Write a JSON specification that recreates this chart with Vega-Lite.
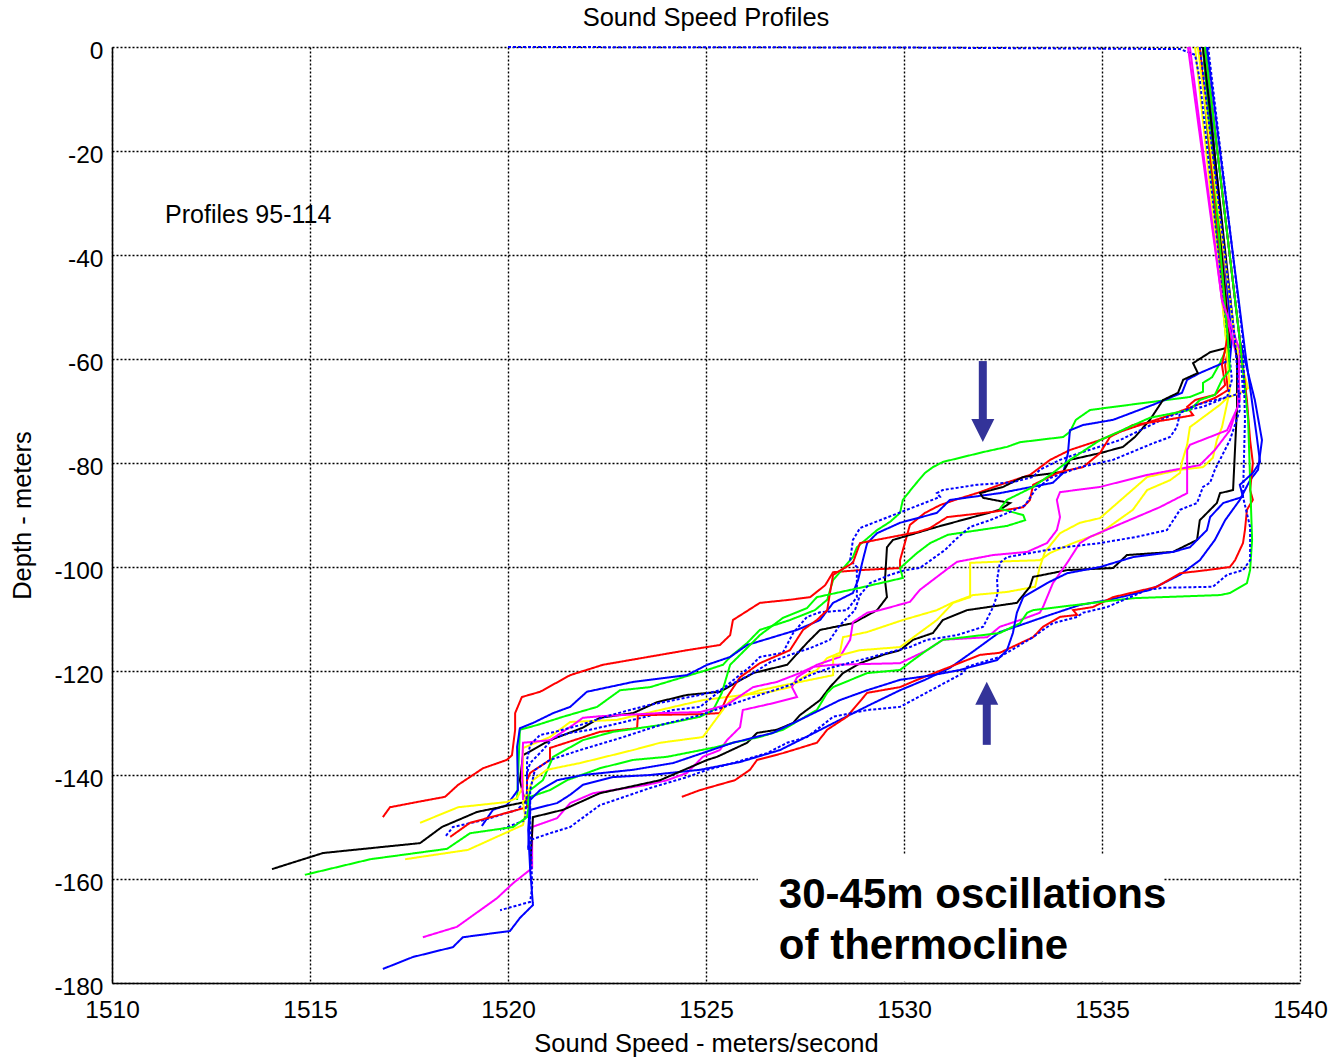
{
  "$schema": "https://vega.github.io/schema/vega-lite/v6.json",
  "width": 1188,
  "height": 936,
  "autosize": {"type": "none"},
  "padding": {"left": 112, "top": 47, "right": 36, "bottom": 75},
  "background": "white",
  "config": {
    "view": {"stroke": null},
    "font": "Liberation Sans",
    "axis": {
      "labelFont": "Liberation Sans",
      "titleFont": "Liberation Sans",
      "labelColor": "black",
      "titleColor": "black",
      "labelFontSize": 24.5,
      "titleFontSize": 25.5,
      "titleFontWeight": "normal",
      "labelFlush": false,
      "labelOverlap": false,
      "grid": true,
      "gridColor": "black",
      "gridDash": [2, 2],
      "gridWidth": 1.4,
      "gridOpacity": 1,
      "domainColor": "black",
      "domainWidth": 1.5,
      "ticks": false
    }
  },
  "title": {
    "text": "Sound Speed Profiles",
    "font": "Liberation Sans",
    "fontSize": 25.5,
    "fontWeight": "normal",
    "color": "black",
    "anchor": "middle",
    "offset": 7
  },
  "encoding": {
    "x": {
      "field": "v",
      "type": "quantitative",
      "scale": {"domain": [1510, 1540], "nice": false, "zero": false},
      "axis": {
        "title": "Sound Speed - meters/second",
        "values": [1510, 1515, 1520, 1525, 1530, 1535, 1540],
        "format": "d",
        "labelPadding": 15,
        "titleX": 594,
        "titleY": 60,
        "titleAlign": "center",
        "titleBaseline": "middle"
      }
    },
    "y": {
      "field": "d",
      "type": "quantitative",
      "scale": {"domain": [-180, 0], "nice": false, "zero": false},
      "axis": {
        "title": "Depth - meters",
        "values": [0, -20, -40, -60, -80, -100, -120, -140, -160, -180],
        "labelExpr": "'' + datum.value",
        "labelPadding": 9,
        "labelOffset": 4,
        "titleX": -90,
        "titleY": 468,
        "titleAngle": 270,
        "titleAlign": "center",
        "titleBaseline": "middle"
      }
    }
  },
  "layer": [
    {
      "data": {"values": [
{"p":"95","v":1537.55,"d":0},{"p":"95","v":1538.23,"d":-56.3},{"p":"95","v":1538.11,"d":-61.2},{"p":"95","v":1538.18,"d":-66.0},{"p":"95","v":1537.85,"d":-67.5},{"p":"95","v":1536.72,"d":-70.8},{"p":"95","v":1535.45,"d":-74.0},{"p":"95","v":1534.95,"d":-75.6},{"p":"95","v":1534.19,"d":-77.5},{"p":"95","v":1533.69,"d":-79.4},{"p":"95","v":1533.18,"d":-82.3},{"p":"95","v":1532.42,"d":-84.2},{"p":"95","v":1531.92,"d":-85.6},{"p":"95","v":1531.29,"d":-87.1},{"p":"95","v":1530.91,"d":-88.1},{"p":"95","v":1530.53,"d":-89.6},{"p":"95","v":1530.15,"d":-91.9},{"p":"95","v":1529.90,"d":-98.7},{"p":"95","v":1529.90,"d":-100.2},{"p":"95","v":1528.89,"d":-100.6},{"p":"95","v":1528.21,"d":-101.0},{"p":"95","v":1528.01,"d":-103.5},{"p":"95","v":1527.63,"d":-105.8},{"p":"95","v":1527.12,"d":-106.3},{"p":"95","v":1526.36,"d":-106.9},{"p":"95","v":1525.68,"d":-110.2},{"p":"95","v":1525.61,"d":-113.1},{"p":"95","v":1525.35,"d":-115.0},{"p":"95","v":1524.52,"d":-116.0},{"p":"95","v":1522.40,"d":-118.8},{"p":"95","v":1521.57,"d":-120.8},{"p":"95","v":1520.81,"d":-124.0},{"p":"95","v":1520.35,"d":-125.0},{"p":"95","v":1520.18,"d":-128.1},{"p":"95","v":1520.18,"d":-131.3},{"p":"95","v":1520.10,"d":-136.2},{"p":"95","v":1519.97,"d":-137.1},{"p":"95","v":1519.37,"d":-138.7},{"p":"95","v":1518.74,"d":-141.9},{"p":"95","v":1518.41,"d":-144.2},{"p":"95","v":1517.70,"d":-145.2},{"p":"95","v":1517.02,"d":-146.2},{"p":"95","v":1516.84,"d":-148.1},
{"p":"96","v":1537.47,"d":0},{"p":"96","v":1538.11,"d":-54.4},{"p":"96","v":1538.16,"d":-57.7},{"p":"96","v":1537.98,"d":-60.8},{"p":"96","v":1537.78,"d":-63.5},{"p":"96","v":1537.55,"d":-64.6},{"p":"96","v":1537.55,"d":-66.3},{"p":"96","v":1537.22,"d":-67.3},{"p":"96","v":1534.70,"d":-69.8},{"p":"96","v":1534.34,"d":-71.7},{"p":"96","v":1534.19,"d":-74.0},{"p":"96","v":1534.02,"d":-75.0},{"p":"96","v":1532.93,"d":-76.0},{"p":"96","v":1532.60,"d":-76.9},{"p":"96","v":1532.00,"d":-77.9},{"p":"96","v":1530.98,"d":-79.8},{"p":"96","v":1530.73,"d":-80.8},{"p":"96","v":1530.53,"d":-81.9},{"p":"96","v":1530.23,"d":-84.6},{"p":"96","v":1529.97,"d":-87.1},{"p":"96","v":1529.90,"d":-89.6},{"p":"96","v":1529.65,"d":-91.3},{"p":"96","v":1529.32,"d":-92.9},{"p":"96","v":1528.81,"d":-96.2},{"p":"96","v":1528.71,"d":-98.1},{"p":"96","v":1528.21,"d":-102.5},{"p":"96","v":1528.06,"d":-106.3},{"p":"96","v":1527.75,"d":-108.3},{"p":"96","v":1527.12,"d":-110.2},{"p":"96","v":1526.36,"d":-112.1},{"p":"96","v":1526.04,"d":-114.6},{"p":"96","v":1525.61,"d":-117.3},{"p":"96","v":1525.43,"d":-118.8},{"p":"96","v":1525.03,"d":-119.8},{"p":"96","v":1523.59,"d":-123.1},{"p":"96","v":1522.83,"d":-123.7},{"p":"96","v":1522.25,"d":-126.9},{"p":"96","v":1521.39,"d":-128.8},{"p":"96","v":1520.73,"d":-130.4},{"p":"96","v":1520.30,"d":-131.3},{"p":"96","v":1520.25,"d":-141.0},{"p":"96","v":1520.23,"d":-144.8},
{"p":"97","v":1537.60,"d":0},{"p":"97","v":1538.28,"d":-56.3},{"p":"97","v":1538.23,"d":-60.2},{"p":"97","v":1537.47,"d":-62.7},{"p":"97","v":1537.15,"d":-64.0},{"p":"97","v":1537.02,"d":-66.5},{"p":"97","v":1536.29,"d":-68.8},{"p":"97","v":1535.28,"d":-71.7},{"p":"97","v":1534.52,"d":-72.7},{"p":"97","v":1534.19,"d":-73.7},{"p":"97","v":1534.14,"d":-78.1},{"p":"97","v":1534.02,"d":-81.9},{"p":"97","v":1533.76,"d":-83.8},{"p":"97","v":1532.42,"d":-85.8},{"p":"97","v":1531.16,"d":-87.1},{"p":"97","v":1530.83,"d":-89.6},{"p":"97","v":1529.90,"d":-91.5},{"p":"97","v":1529.32,"d":-93.5},{"p":"97","v":1529.07,"d":-95.4},{"p":"97","v":1528.96,"d":-98.7},{"p":"97","v":1528.84,"d":-102.5},{"p":"97","v":1528.71,"d":-105.0},{"p":"97","v":1528.21,"d":-106.9},{"p":"97","v":1527.88,"d":-110.2},{"p":"97","v":1527.30,"d":-112.1},{"p":"97","v":1526.04,"d":-115.0},{"p":"97","v":1525.61,"d":-117.3},{"p":"97","v":1525.03,"d":-118.8},{"p":"97","v":1524.52,"d":-120.8},{"p":"97","v":1523.16,"d":-122.1},{"p":"97","v":1521.99,"d":-124.0},{"p":"97","v":1521.57,"d":-126.9},{"p":"97","v":1521.14,"d":-128.1},{"p":"97","v":1520.63,"d":-130.0},{"p":"97","v":1520.30,"d":-131.0},{"p":"97","v":1520.23,"d":-134.6},{"p":"97","v":1520.25,"d":-142.9},{"p":"97","v":1519.97,"d":-145.8},{"p":"97","v":1519.62,"d":-146.7},{"p":"97","v":1519.34,"d":-149.8},
{"p":"98","v":1537.55,"d":0},{"p":"98","v":1538.23,"d":-57.7},{"p":"98","v":1537.73,"d":-58.7},{"p":"98","v":1537.30,"d":-60.8},{"p":"98","v":1537.42,"d":-62.7},{"p":"98","v":1537.05,"d":-64.0},{"p":"98","v":1536.92,"d":-66.5},{"p":"98","v":1536.54,"d":-67.9},{"p":"98","v":1536.21,"d":-71.7},{"p":"98","v":1535.83,"d":-75.0},{"p":"98","v":1535.53,"d":-76.9},{"p":"98","v":1534.95,"d":-78.1},{"p":"98","v":1534.19,"d":-79.4},{"p":"98","v":1534.02,"d":-81.7},{"p":"98","v":1533.01,"d":-82.7},{"p":"98","v":1532.50,"d":-84.6},{"p":"98","v":1531.92,"d":-85.8},{"p":"98","v":1532.00,"d":-86.7},{"p":"98","v":1532.68,"d":-87.7},{"p":"98","v":1532.42,"d":-89.0},{"p":"98","v":1530.83,"d":-92.3},{"p":"98","v":1529.72,"d":-94.8},{"p":"98","v":1529.57,"d":-96.2},{"p":"98","v":1529.52,"d":-102.5},{"p":"98","v":1529.57,"d":-105.8},{"p":"98","v":1529.32,"d":-108.3},{"p":"98","v":1528.71,"d":-110.8},{"p":"98","v":1527.88,"d":-112.1},{"p":"98","v":1527.55,"d":-114.6},{"p":"98","v":1527.05,"d":-118.8},{"p":"98","v":1526.19,"d":-120.4},{"p":"98","v":1525.35,"d":-124.0},{"p":"98","v":1524.52,"d":-124.6},{"p":"98","v":1523.76,"d":-126.0},{"p":"98","v":1523.16,"d":-128.1},{"p":"98","v":1522.32,"d":-129.0},{"p":"98","v":1521.89,"d":-130.9},{"p":"98","v":1521.06,"d":-133.3},{"p":"98","v":1520.38,"d":-136.2},{"p":"98","v":1520.30,"d":-141.0},{"p":"98","v":1520.43,"d":-145.2},{"p":"98","v":1519.22,"d":-147.1},{"p":"98","v":1518.33,"d":-150.0},{"p":"98","v":1517.78,"d":-153.1},{"p":"98","v":1515.33,"d":-155.0},{"p":"98","v":1514.04,"d":-158.1},
{"p":"99","v":1537.35,"d":0},{"p":"99","v":1538.11,"d":-54.4},{"p":"99","v":1538.23,"d":-66.0},{"p":"99","v":1538.03,"d":-73.1},{"p":"99","v":1537.90,"d":-75.6},{"p":"99","v":1537.80,"d":-79.0},{"p":"99","v":1537.55,"d":-80.8},{"p":"99","v":1536.97,"d":-81.3},{"p":"99","v":1536.14,"d":-82.7},{"p":"99","v":1534.95,"d":-90.6},{"p":"99","v":1534.44,"d":-91.5},{"p":"99","v":1533.94,"d":-93.5},{"p":"99","v":1533.56,"d":-97.1},{"p":"99","v":1533.43,"d":-100.0},{"p":"99","v":1533.31,"d":-103.8},{"p":"99","v":1532.60,"d":-104.8},{"p":"99","v":1531.74,"d":-105.4},{"p":"99","v":1531.21,"d":-106.9},{"p":"99","v":1530.83,"d":-108.3},{"p":"99","v":1529.97,"d":-110.2},{"p":"99","v":1529.07,"d":-112.5},{"p":"99","v":1528.46,"d":-113.5},{"p":"99","v":1528.38,"d":-116.5},{"p":"99","v":1528.06,"d":-117.5},{"p":"99","v":1527.80,"d":-119.8},{"p":"99","v":1527.45,"d":-121.2},{"p":"99","v":1527.12,"d":-123.1},{"p":"99","v":1526.62,"d":-124.0},{"p":"99","v":1525.53,"d":-125.0},{"p":"99","v":1524.92,"d":-125.6},{"p":"99","v":1523.84,"d":-127.5},{"p":"99","v":1522.75,"d":-129.4},{"p":"99","v":1521.57,"d":-129.8},{"p":"99","v":1521.06,"d":-132.7},{"p":"99","v":1520.38,"d":-134.8},{"p":"99","v":1520.38,"d":-142.3},{"p":"99","v":1520.23,"d":-144.4},{"p":"99","v":1519.97,"d":-145.2},{"p":"99","v":1518.74,"d":-146.2},{"p":"99","v":1517.78,"d":-149.2},
{"p":"100","v":1537.22,"d":0},{"p":"100","v":1538.03,"d":-48.7},{"p":"100","v":1538.43,"d":-60.2},{"p":"100","v":1538.48,"d":-67.9},{"p":"100","v":1538.23,"d":-73.7},{"p":"100","v":1537.85,"d":-77.5},{"p":"100","v":1537.47,"d":-80.4},{"p":"100","v":1536.14,"d":-82.3},{"p":"100","v":1534.95,"d":-84.6},{"p":"100","v":1533.94,"d":-85.6},{"p":"100","v":1533.86,"d":-87.1},{"p":"100","v":1533.94,"d":-90.4},{"p":"100","v":1533.86,"d":-92.9},{"p":"100","v":1533.61,"d":-95.4},{"p":"100","v":1533.11,"d":-97.1},{"p":"100","v":1532.25,"d":-97.7},{"p":"100","v":1531.34,"d":-99.0},{"p":"100","v":1531.16,"d":-100.0},{"p":"100","v":1530.40,"d":-104.4},{"p":"100","v":1530.15,"d":-106.7},{"p":"100","v":1529.39,"d":-108.3},{"p":"100","v":1529.07,"d":-108.8},{"p":"100","v":1528.71,"d":-110.6},{"p":"100","v":1528.64,"d":-114.0},{"p":"100","v":1528.38,"d":-117.3},{"p":"100","v":1527.80,"d":-118.8},{"p":"100","v":1527.30,"d":-121.2},{"p":"100","v":1527.17,"d":-123.1},{"p":"100","v":1527.30,"d":-125.0},{"p":"100","v":1526.69,"d":-126.2},{"p":"100","v":1525.93,"d":-127.5},{"p":"100","v":1525.86,"d":-130.8},{"p":"100","v":1525.53,"d":-133.3},{"p":"100","v":1525.35,"d":-135.2},{"p":"100","v":1524.92,"d":-136.5},{"p":"100","v":1524.52,"d":-139.6},{"p":"100","v":1524.02,"d":-141.0},{"p":"100","v":1523.51,"d":-141.9},{"p":"100","v":1522.15,"d":-143.5},{"p":"100","v":1521.57,"d":-145.4},{"p":"100","v":1521.24,"d":-148.3},{"p":"100","v":1520.61,"d":-150.0},{"p":"100","v":1520.61,"d":-157.9},{"p":"100","v":1520.13,"d":-160.8},{"p":"100","v":1519.72,"d":-163.7},{"p":"100","v":1518.71,"d":-169.2},{"p":"100","v":1517.85,"d":-171.2},
{"p":"101","v":1520.00,"d":0},{"p":"101","v":1529.90,"d":-0.1},{"p":"101","v":1536.97,"d":-0.4},{"p":"101","v":1537.35,"d":-1.5},{"p":"101","v":1537.47,"d":-6.3},{"p":"101","v":1538.18,"d":-56.3},{"p":"101","v":1538.28,"d":-64.0},{"p":"101","v":1538.16,"d":-67.3},{"p":"101","v":1537.55,"d":-69.2},{"p":"101","v":1537.15,"d":-69.8},{"p":"101","v":1536.64,"d":-71.2},{"p":"101","v":1535.45,"d":-75.6},{"p":"101","v":1534.27,"d":-78.5},{"p":"101","v":1533.94,"d":-79.4},{"p":"101","v":1533.43,"d":-81.3},{"p":"101","v":1533.26,"d":-82.7},{"p":"101","v":1532.75,"d":-83.7},{"p":"101","v":1531.84,"d":-84.2},{"p":"101","v":1530.98,"d":-85.2},{"p":"101","v":1530.83,"d":-85.8},{"p":"101","v":1530.91,"d":-86.5},{"p":"101","v":1530.58,"d":-87.5},{"p":"101","v":1528.89,"d":-92.5},{"p":"101","v":1528.71,"d":-94.8},{"p":"101","v":1528.64,"d":-98.7},{"p":"101","v":1528.81,"d":-100.0},{"p":"101","v":1528.81,"d":-105.8},{"p":"101","v":1528.56,"d":-108.3},{"p":"101","v":1527.88,"d":-108.7},{"p":"101","v":1527.55,"d":-109.6},{"p":"101","v":1527.20,"d":-112.7},{"p":"101","v":1526.94,"d":-116.5},{"p":"101","v":1526.36,"d":-117.3},{"p":"101","v":1526.11,"d":-119.2},{"p":"101","v":1525.78,"d":-121.2},{"p":"101","v":1524.85,"d":-126.9},{"p":"101","v":1524.17,"d":-127.5},{"p":"101","v":1522.83,"d":-130.0},{"p":"101","v":1522.07,"d":-131.3},{"p":"101","v":1521.57,"d":-131.9},{"p":"101","v":1521.14,"d":-132.9},{"p":"101","v":1520.88,"d":-135.2},{"p":"101","v":1520.56,"d":-137.7},{"p":"101","v":1520.48,"d":-139.6},{"p":"101","v":1520.48,"d":-144.8},{"p":"101","v":1520.23,"d":-146.7},{"p":"101","v":1519.37,"d":-148.7},{"p":"101","v":1518.61,"d":-150.0},{"p":"101","v":1518.41,"d":-151.9},
{"p":"102","v":1537.47,"d":0},{"p":"102","v":1538.18,"d":-55.4},{"p":"102","v":1538.03,"d":-61.2},{"p":"102","v":1538.11,"d":-65.0},{"p":"102","v":1537.85,"d":-66.9},{"p":"102","v":1537.35,"d":-67.9},{"p":"102","v":1537.15,"d":-69.2},{"p":"102","v":1537.30,"d":-70.8},{"p":"102","v":1536.64,"d":-71.7},{"p":"102","v":1535.78,"d":-72.7},{"p":"102","v":1535.20,"d":-75.0},{"p":"102","v":1534.95,"d":-78.1},{"p":"102","v":1534.52,"d":-80.8},{"p":"102","v":1533.94,"d":-81.7},{"p":"102","v":1533.26,"d":-84.2},{"p":"102","v":1533.18,"d":-87.1},{"p":"102","v":1533.01,"d":-88.5},{"p":"102","v":1532.25,"d":-89.4},{"p":"102","v":1531.09,"d":-90.4},{"p":"102","v":1530.66,"d":-92.5},{"p":"102","v":1530.33,"d":-93.3},{"p":"102","v":1529.57,"d":-94.4},{"p":"102","v":1528.89,"d":-95.4},{"p":"102","v":1528.71,"d":-99.2},{"p":"102","v":1528.21,"d":-101.5},{"p":"102","v":1528.13,"d":-105.0},{"p":"102","v":1528.06,"d":-108.3},{"p":"102","v":1527.80,"d":-110.2},{"p":"102","v":1527.45,"d":-112.1},{"p":"102","v":1527.12,"d":-116.0},{"p":"102","v":1526.36,"d":-118.5},{"p":"102","v":1525.86,"d":-121.2},{"p":"102","v":1525.53,"d":-125.0},{"p":"102","v":1525.35,"d":-128.1},{"p":"102","v":1524.85,"d":-128.3},{"p":"102","v":1523.28,"d":-128.5},{"p":"102","v":1523.26,"d":-131.0},{"p":"102","v":1522.32,"d":-131.7},{"p":"102","v":1521.06,"d":-134.8},{"p":"102","v":1521.06,"d":-137.1},{"p":"102","v":1520.56,"d":-139.6},{"p":"102","v":1520.48,"d":-141.0},{"p":"102","v":1520.48,"d":-146.2},{"p":"102","v":1520.05,"d":-147.1},{"p":"102","v":1519.04,"d":-149.2},{"p":"102","v":1518.54,"d":-151.9},
{"p":"103","v":1537.55,"d":0},{"p":"103","v":1538.18,"d":-56.3},{"p":"103","v":1538.23,"d":-62.1},{"p":"103","v":1538.03,"d":-64.0},{"p":"103","v":1537.85,"d":-66.9},{"p":"103","v":1537.47,"d":-67.9},{"p":"103","v":1537.22,"d":-69.8},{"p":"103","v":1536.21,"d":-71.3},{"p":"103","v":1534.95,"d":-75.6},{"p":"103","v":1534.19,"d":-79.4},{"p":"103","v":1533.69,"d":-82.3},{"p":"103","v":1533.26,"d":-84.6},{"p":"103","v":1532.60,"d":-87.1},{"p":"103","v":1532.42,"d":-88.8},{"p":"103","v":1533.01,"d":-90.0},{"p":"103","v":1533.06,"d":-91.0},{"p":"103","v":1532.60,"d":-92.1},{"p":"103","v":1531.11,"d":-93.8},{"p":"103","v":1530.66,"d":-95.4},{"p":"103","v":1530.33,"d":-97.3},{"p":"103","v":1529.90,"d":-100.2},{"p":"103","v":1529.97,"d":-102.1},{"p":"103","v":1528.89,"d":-104.0},{"p":"103","v":1527.80,"d":-105.8},{"p":"103","v":1527.55,"d":-107.9},{"p":"103","v":1526.94,"d":-109.8},{"p":"103","v":1526.36,"d":-113.1},{"p":"103","v":1525.98,"d":-116.0},{"p":"103","v":1525.61,"d":-118.8},{"p":"103","v":1525.40,"d":-124.2},{"p":"103","v":1525.18,"d":-127.5},{"p":"103","v":1524.85,"d":-128.8},{"p":"103","v":1523.84,"d":-130.4},{"p":"103","v":1522.65,"d":-131.7},{"p":"103","v":1521.89,"d":-133.3},{"p":"103","v":1521.14,"d":-136.5},{"p":"103","v":1520.88,"d":-141.0},{"p":"103","v":1520.56,"d":-142.9},{"p":"103","v":1520.48,"d":-145.8},
{"p":"104","v":1537.60,"d":0},{"p":"104","v":1538.48,"d":-56.3},{"p":"104","v":1538.86,"d":-67.9},{"p":"104","v":1539.04,"d":-75.6},{"p":"104","v":1538.94,"d":-81.3},{"p":"104","v":1538.74,"d":-83.3},{"p":"104","v":1538.48,"d":-87.1},{"p":"104","v":1538.11,"d":-91.0},{"p":"104","v":1537.85,"d":-94.8},{"p":"104","v":1537.47,"d":-98.7},{"p":"104","v":1536.97,"d":-101.5},{"p":"104","v":1536.21,"d":-104.4},{"p":"104","v":1535.20,"d":-106.3},{"p":"104","v":1534.44,"d":-107.3},{"p":"104","v":1533.69,"d":-109.2},{"p":"104","v":1532.93,"d":-111.2},{"p":"104","v":1532.42,"d":-112.5},{"p":"104","v":1531.79,"d":-116.0},{"p":"104","v":1531.16,"d":-119.4},{"p":"104","v":1530.53,"d":-121.7},{"p":"104","v":1529.90,"d":-123.7},{"p":"104","v":1529.14,"d":-126.5},{"p":"104","v":1528.38,"d":-129.4},{"p":"104","v":1527.63,"d":-132.3},{"p":"104","v":1526.87,"d":-135.2},{"p":"104","v":1525.86,"d":-137.5},{"p":"104","v":1524.85,"d":-139.0},{"p":"104","v":1523.59,"d":-140.0},{"p":"104","v":1522.65,"d":-140.4},{"p":"104","v":1521.89,"d":-141.9},{"p":"104","v":1521.57,"d":-143.8},{"p":"104","v":1521.24,"d":-145.4},{"p":"104","v":1520.56,"d":-146.7},{"p":"104","v":1520.51,"d":-154.4},
{"p":"105","v":1537.55,"d":0},{"p":"105","v":1538.41,"d":-60.2},{"p":"105","v":1538.41,"d":-69.2},{"p":"105","v":1538.31,"d":-85.2},{"p":"105","v":1537.98,"d":-85.8},{"p":"105","v":1537.90,"d":-87.7},{"p":"105","v":1537.47,"d":-91.0},{"p":"105","v":1537.40,"d":-94.8},{"p":"105","v":1536.79,"d":-97.1},{"p":"105","v":1535.63,"d":-97.7},{"p":"105","v":1535.28,"d":-100.2},{"p":"105","v":1534.12,"d":-100.6},{"p":"105","v":1533.26,"d":-101.9},{"p":"105","v":1533.18,"d":-103.8},{"p":"105","v":1532.85,"d":-106.9},{"p":"105","v":1531.59,"d":-108.3},{"p":"105","v":1530.98,"d":-110.2},{"p":"105","v":1530.73,"d":-112.7},{"p":"105","v":1530.23,"d":-114.0},{"p":"105","v":1529.90,"d":-116.0},{"p":"105","v":1529.47,"d":-116.9},{"p":"105","v":1528.89,"d":-118.5},{"p":"105","v":1528.46,"d":-120.4},{"p":"105","v":1528.13,"d":-123.1},{"p":"105","v":1527.88,"d":-125.6},{"p":"105","v":1527.37,"d":-128.5},{"p":"105","v":1527.20,"d":-130.0},{"p":"105","v":1526.79,"d":-131.3},{"p":"105","v":1526.29,"d":-131.9},{"p":"105","v":1526.04,"d":-133.8},{"p":"105","v":1525.28,"d":-136.5},{"p":"105","v":1525.03,"d":-137.1},{"p":"105","v":1523.84,"d":-141.0},{"p":"105","v":1522.32,"d":-143.5},{"p":"105","v":1521.39,"d":-146.7},{"p":"105","v":1520.63,"d":-148.1},{"p":"105","v":1520.56,"d":-157.9},
{"p":"106","v":1537.42,"d":0},{"p":"106","v":1538.36,"d":-56.3},{"p":"106","v":1538.56,"d":-62.1},{"p":"106","v":1538.69,"d":-65.6},{"p":"106","v":1538.56,"d":-66.3},{"p":"106","v":1538.16,"d":-67.5},{"p":"106","v":1537.98,"d":-68.8},{"p":"106","v":1537.22,"d":-73.1},{"p":"106","v":1537.15,"d":-76.5},{"p":"106","v":1537.02,"d":-79.8},{"p":"106","v":1536.97,"d":-81.9},{"p":"106","v":1536.72,"d":-83.3},{"p":"106","v":1536.14,"d":-85.2},{"p":"106","v":1535.78,"d":-89.0},{"p":"106","v":1534.95,"d":-93.5},{"p":"106","v":1534.27,"d":-95.4},{"p":"106","v":1533.69,"d":-97.3},{"p":"106","v":1533.43,"d":-98.7},{"p":"106","v":1532.60,"d":-98.9},{"p":"106","v":1531.67,"d":-99.2},{"p":"106","v":1531.67,"d":-105.8},{"p":"106","v":1531.24,"d":-106.9},{"p":"106","v":1530.83,"d":-110.2},{"p":"106","v":1530.15,"d":-114.0},{"p":"106","v":1529.90,"d":-115.4},{"p":"106","v":1528.89,"d":-116.0},{"p":"106","v":1528.21,"d":-117.3},{"p":"106","v":1528.21,"d":-120.8},{"p":"106","v":1527.63,"d":-121.7},{"p":"106","v":1526.36,"d":-123.7},{"p":"106","v":1525.61,"d":-125.6},{"p":"106","v":1524.92,"d":-132.7},{"p":"106","v":1523.84,"d":-133.8},{"p":"106","v":1523.16,"d":-135.2},{"p":"106","v":1521.82,"d":-137.7},{"p":"106","v":1520.98,"d":-139.0},{"p":"106","v":1520.63,"d":-141.0},{"p":"106","v":1520.38,"d":-145.2},{"p":"106","v":1520.43,"d":-147.7},{"p":"106","v":1520.38,"d":-149.6},{"p":"106","v":1518.99,"d":-154.4},{"p":"106","v":1517.40,"d":-156.2},
{"p":"107","v":1537.17,"d":0},{"p":"107","v":1538.03,"d":-48.7},{"p":"107","v":1538.48,"d":-58.3},{"p":"107","v":1538.43,"d":-69.2},{"p":"107","v":1538.16,"d":-73.7},{"p":"107","v":1537.22,"d":-76.5},{"p":"107","v":1537.15,"d":-77.5},{"p":"107","v":1537.15,"d":-85.8},{"p":"107","v":1536.46,"d":-88.5},{"p":"107","v":1535.53,"d":-91.5},{"p":"107","v":1534.70,"d":-94.2},{"p":"107","v":1534.44,"d":-95.4},{"p":"107","v":1534.12,"d":-99.2},{"p":"107","v":1533.76,"d":-103.1},{"p":"107","v":1533.51,"d":-107.7},{"p":"107","v":1533.43,"d":-108.8},{"p":"107","v":1532.93,"d":-110.2},{"p":"107","v":1532.42,"d":-111.5},{"p":"107","v":1532.10,"d":-113.5},{"p":"107","v":1530.98,"d":-114.0},{"p":"107","v":1530.58,"d":-116.0},{"p":"107","v":1529.90,"d":-118.5},{"p":"107","v":1528.21,"d":-118.8},{"p":"107","v":1527.70,"d":-119.2},{"p":"107","v":1527.37,"d":-120.4},{"p":"107","v":1526.79,"d":-122.1},{"p":"107","v":1526.19,"d":-123.1},{"p":"107","v":1525.53,"d":-126.5},{"p":"107","v":1524.85,"d":-127.9},{"p":"107","v":1523.84,"d":-128.1},{"p":"107","v":1522.32,"d":-128.7},{"p":"107","v":1521.89,"d":-129.0},{"p":"107","v":1521.64,"d":-130.4},{"p":"107","v":1521.06,"d":-133.3},{"p":"107","v":1520.38,"d":-133.8},{"p":"107","v":1520.35,"d":-139.0},{"p":"107","v":1520.38,"d":-144.8},
{"p":"108","v":1537.60,"d":0},{"p":"108","v":1538.48,"d":-56.3},{"p":"108","v":1538.56,"d":-66.5},{"p":"108","v":1538.16,"d":-67.3},{"p":"108","v":1537.40,"d":-68.8},{"p":"108","v":1536.97,"d":-70.4},{"p":"108","v":1536.89,"d":-73.1},{"p":"108","v":1536.72,"d":-75.0},{"p":"108","v":1536.29,"d":-76.2},{"p":"108","v":1535.28,"d":-79.4},{"p":"108","v":1534.44,"d":-80.8},{"p":"108","v":1533.69,"d":-82.9},{"p":"108","v":1533.31,"d":-85.2},{"p":"108","v":1533.06,"d":-88.1},{"p":"108","v":1532.68,"d":-89.4},{"p":"108","v":1532.17,"d":-91.0},{"p":"108","v":1531.67,"d":-92.3},{"p":"108","v":1531.29,"d":-94.8},{"p":"108","v":1531.04,"d":-96.7},{"p":"108","v":1530.40,"d":-100.2},{"p":"108","v":1530.03,"d":-100.6},{"p":"108","v":1529.65,"d":-101.5},{"p":"108","v":1529.14,"d":-103.1},{"p":"108","v":1528.89,"d":-105.4},{"p":"108","v":1528.76,"d":-108.3},{"p":"108","v":1528.38,"d":-111.2},{"p":"108","v":1528.13,"d":-114.0},{"p":"108","v":1527.63,"d":-115.6},{"p":"108","v":1527.12,"d":-116.9},{"p":"108","v":1526.62,"d":-118.3},{"p":"108","v":1526.24,"d":-120.2},{"p":"108","v":1525.86,"d":-121.7},{"p":"108","v":1525.35,"d":-123.7},{"p":"108","v":1524.85,"d":-124.6},{"p":"108","v":1523.59,"d":-126.5},{"p":"108","v":1522.58,"d":-128.5},{"p":"108","v":1521.82,"d":-130.4},{"p":"108","v":1521.19,"d":-131.7},{"p":"108","v":1520.81,"d":-132.3},{"p":"108","v":1520.56,"d":-134.2},{"p":"108","v":1520.48,"d":-137.1},{"p":"108","v":1520.48,"d":-142.9},{"p":"108","v":1520.43,"d":-148.7},{"p":"108","v":1520.05,"d":-149.8},{"p":"108","v":1519.80,"d":-150.6},
{"p":"109","v":1537.60,"d":0},{"p":"109","v":1538.48,"d":-56.3},{"p":"109","v":1538.66,"d":-67.9},{"p":"109","v":1538.74,"d":-75.6},{"p":"109","v":1538.81,"d":-80.0},{"p":"109","v":1538.74,"d":-85.2},{"p":"109","v":1538.81,"d":-87.1},{"p":"109","v":1538.66,"d":-89.0},{"p":"109","v":1538.61,"d":-92.9},{"p":"109","v":1538.56,"d":-95.4},{"p":"109","v":1538.36,"d":-98.7},{"p":"109","v":1538.23,"d":-100.0},{"p":"109","v":1537.65,"d":-100.6},{"p":"109","v":1536.97,"d":-101.2},{"p":"109","v":1536.39,"d":-103.8},{"p":"109","v":1535.28,"d":-105.8},{"p":"109","v":1534.77,"d":-107.7},{"p":"109","v":1534.27,"d":-108.3},{"p":"109","v":1534.37,"d":-109.2},{"p":"109","v":1533.94,"d":-109.6},{"p":"109","v":1533.51,"d":-111.5},{"p":"109","v":1533.26,"d":-113.5},{"p":"109","v":1532.42,"d":-116.5},{"p":"109","v":1531.92,"d":-116.9},{"p":"109","v":1531.16,"d":-119.2},{"p":"109","v":1530.33,"d":-121.7},{"p":"109","v":1529.90,"d":-123.1},{"p":"109","v":1529.07,"d":-124.2},{"p":"109","v":1528.56,"d":-128.8},{"p":"109","v":1528.06,"d":-131.3},{"p":"109","v":1527.80,"d":-133.8},{"p":"109","v":1526.94,"d":-135.8},{"p":"109","v":1526.29,"d":-137.1},{"p":"109","v":1526.11,"d":-139.0},{"p":"109","v":1525.73,"d":-141.0},{"p":"109","v":1524.85,"d":-142.9},{"p":"109","v":1524.39,"d":-144.2},
{"p":"110","v":1537.60,"d":0},{"p":"110","v":1538.48,"d":-56.3},{"p":"110","v":1538.69,"d":-71.7},{"p":"110","v":1538.74,"d":-83.3},{"p":"110","v":1538.79,"d":-94.8},{"p":"110","v":1538.74,"d":-100.6},{"p":"110","v":1538.66,"d":-103.1},{"p":"110","v":1538.23,"d":-105.0},{"p":"110","v":1537.98,"d":-105.4},{"p":"110","v":1535.78,"d":-106.0},{"p":"110","v":1534.77,"d":-106.9},{"p":"110","v":1533.26,"d":-108.3},{"p":"110","v":1533.11,"d":-108.8},{"p":"110","v":1532.93,"d":-110.8},{"p":"110","v":1532.42,"d":-112.7},{"p":"110","v":1530.98,"d":-114.0},{"p":"110","v":1530.58,"d":-116.0},{"p":"110","v":1530.23,"d":-117.9},{"p":"110","v":1529.90,"d":-119.8},{"p":"110","v":1529.07,"d":-120.4},{"p":"110","v":1528.21,"d":-123.1},{"p":"110","v":1528.06,"d":-124.2},{"p":"110","v":1527.80,"d":-127.5},{"p":"110","v":1527.37,"d":-129.4},{"p":"110","v":1526.94,"d":-131.3},{"p":"110","v":1526.36,"d":-132.7},{"p":"110","v":1525.68,"d":-133.8},{"p":"110","v":1525.28,"d":-134.6},{"p":"110","v":1524.02,"d":-136.5},{"p":"110","v":1523.16,"d":-137.1},{"p":"110","v":1522.32,"d":-138.7},{"p":"110","v":1521.49,"d":-141.0},{"p":"110","v":1521.06,"d":-142.9},{"p":"110","v":1520.56,"d":-144.2},{"p":"110","v":1520.48,"d":-148.1},{"p":"110","v":1520.13,"d":-150.0},{"p":"110","v":1519.04,"d":-151.2},{"p":"110","v":1518.46,"d":-154.2},{"p":"110","v":1516.52,"d":-156.2},{"p":"110","v":1514.87,"d":-159.2},
{"p":"111","v":1537.65,"d":0},{"p":"111","v":1538.61,"d":-58.3},{"p":"111","v":1538.91,"d":-75.0},{"p":"111","v":1538.99,"d":-79.8},{"p":"111","v":1538.81,"d":-81.9},{"p":"111","v":1538.48,"d":-84.2},{"p":"111","v":1538.56,"d":-86.5},{"p":"111","v":1538.06,"d":-87.7},{"p":"111","v":1537.73,"d":-90.4},{"p":"111","v":1537.65,"d":-92.9},{"p":"111","v":1537.22,"d":-96.2},{"p":"111","v":1536.79,"d":-97.1},{"p":"111","v":1535.78,"d":-98.1},{"p":"111","v":1534.95,"d":-100.0},{"p":"111","v":1534.12,"d":-101.2},{"p":"111","v":1533.61,"d":-103.1},{"p":"111","v":1533.01,"d":-105.8},{"p":"111","v":1532.85,"d":-108.8},{"p":"111","v":1532.75,"d":-112.7},{"p":"111","v":1532.60,"d":-116.0},{"p":"111","v":1532.35,"d":-117.9},{"p":"111","v":1531.41,"d":-119.8},{"p":"111","v":1530.73,"d":-120.8},{"p":"111","v":1529.90,"d":-121.7},{"p":"111","v":1529.07,"d":-123.7},{"p":"111","v":1528.38,"d":-125.6},{"p":"111","v":1527.88,"d":-127.5},{"p":"111","v":1527.37,"d":-129.4},{"p":"111","v":1526.69,"d":-131.9},{"p":"111","v":1525.68,"d":-133.8},{"p":"111","v":1524.17,"d":-137.7},{"p":"111","v":1523.16,"d":-139.0},{"p":"111","v":1521.89,"d":-140.0},{"p":"111","v":1521.24,"d":-141.0},{"p":"111","v":1520.81,"d":-142.9},{"p":"111","v":1520.56,"d":-144.8},{"p":"111","v":1520.51,"d":-150.6},{"p":"111","v":1520.56,"d":-158.3},{"p":"111","v":1520.63,"d":-165.0},{"p":"111","v":1520.30,"d":-167.5},{"p":"111","v":1520.05,"d":-170.0},{"p":"111","v":1518.86,"d":-171.2},{"p":"111","v":1518.61,"d":-173.1},{"p":"111","v":1517.60,"d":-175.0},{"p":"111","v":1516.84,"d":-177.3},
{"p":"112","v":1537.47,"d":0},{"p":"112","v":1538.36,"d":-56.3},{"p":"112","v":1538.48,"d":-69.8},{"p":"112","v":1538.23,"d":-75.6},{"p":"112","v":1537.85,"d":-81.3},{"p":"112","v":1537.73,"d":-83.8},{"p":"112","v":1537.55,"d":-84.6},{"p":"112","v":1537.40,"d":-87.7},{"p":"112","v":1536.97,"d":-89.0},{"p":"112","v":1536.64,"d":-92.9},{"p":"112","v":1535.88,"d":-94.2},{"p":"112","v":1534.95,"d":-95.4},{"p":"112","v":1533.94,"d":-96.3},{"p":"112","v":1532.60,"d":-98.1},{"p":"112","v":1532.42,"d":-99.2},{"p":"112","v":1532.35,"d":-102.5},{"p":"112","v":1532.37,"d":-105.0},{"p":"112","v":1532.25,"d":-107.7},{"p":"112","v":1532.00,"d":-111.5},{"p":"112","v":1531.34,"d":-113.1},{"p":"112","v":1530.58,"d":-114.0},{"p":"112","v":1530.15,"d":-115.4},{"p":"112","v":1529.39,"d":-116.9},{"p":"112","v":1528.89,"d":-117.9},{"p":"112","v":1528.13,"d":-119.4},{"p":"112","v":1527.63,"d":-120.8},{"p":"112","v":1527.12,"d":-122.7},{"p":"112","v":1526.36,"d":-124.6},{"p":"112","v":1525.61,"d":-126.5},{"p":"112","v":1524.85,"d":-128.5},{"p":"112","v":1523.84,"d":-130.4},{"p":"112","v":1522.83,"d":-132.9},{"p":"112","v":1521.82,"d":-135.2},{"p":"112","v":1521.06,"d":-137.1},{"p":"112","v":1520.68,"d":-139.0},{"p":"112","v":1520.56,"d":-142.9},{"p":"112","v":1520.56,"d":-148.7},{"p":"112","v":1520.61,"d":-161.5},{"p":"112","v":1520.56,"d":-164.4},{"p":"112","v":1519.80,"d":-166.0},
{"p":"113","v":1537.68,"d":0},{"p":"113","v":1538.56,"d":-56.3},{"p":"113","v":1538.61,"d":-71.7},{"p":"113","v":1538.56,"d":-86.5},{"p":"113","v":1538.74,"d":-92.3},{"p":"113","v":1538.74,"d":-98.7},{"p":"113","v":1538.56,"d":-100.6},{"p":"113","v":1538.16,"d":-101.5},{"p":"113","v":1537.80,"d":-103.8},{"p":"113","v":1536.54,"d":-104.0},{"p":"113","v":1536.14,"d":-104.4},{"p":"113","v":1535.13,"d":-107.7},{"p":"113","v":1534.52,"d":-108.8},{"p":"113","v":1534.37,"d":-109.6},{"p":"113","v":1533.76,"d":-110.8},{"p":"113","v":1533.51,"d":-112.1},{"p":"113","v":1533.26,"d":-113.5},{"p":"113","v":1532.42,"d":-117.3},{"p":"113","v":1531.59,"d":-119.2},{"p":"113","v":1531.49,"d":-120.4},{"p":"113","v":1529.90,"d":-126.9},{"p":"113","v":1529.07,"d":-127.5},{"p":"113","v":1528.21,"d":-128.8},{"p":"113","v":1527.88,"d":-130.8},{"p":"113","v":1527.55,"d":-132.7},{"p":"113","v":1527.05,"d":-133.8},{"p":"113","v":1526.54,"d":-135.8},{"p":"113","v":1525.68,"d":-137.7},{"p":"113","v":1525.03,"d":-139.0},{"p":"113","v":1524.52,"d":-140.4},{"p":"113","v":1523.59,"d":-142.5},{"p":"113","v":1522.32,"d":-145.8},{"p":"113","v":1521.57,"d":-150.0},{"p":"113","v":1521.06,"d":-151.2},{"p":"113","v":1520.56,"d":-152.5},{"p":"113","v":1520.51,"d":-154.0}
      ]},
      "mark": {"type": "line", "strokeWidth": 2, "interpolate": "linear"},
      "encoding": {
        "color": {
          "field": "p",
          "type": "nominal",
          "legend": null,
          "scale": {
            "domain": ["95","96","97","98","99","100","101","102","103","104","105","106","107","108","109","110","111","112","113"],
            "range": ["#ff0000","#00ff00","#0000ff","#000000","#ffff00","#ff00ff","#0000ff","#ff0000","#00ff00","#0000ff","#000000","#ffff00","#ff00ff","#0000ff","#ff0000","#00ff00","#0000ff","#0000ff","#0000ff"]
          }
        },
        "strokeDash": {
          "field": "p",
          "type": "nominal",
          "legend": null,
          "scale": {
            "domain": ["95","96","97","98","99","100","101","102","103","104","105","106","107","108","109","110","111","112","113"],
            "range": [[1,0],[1,0],[1,0],[1,0],[1,0],[1,0],[3,2],[1,0],[1,0],[1,0],[1,0],[1,0],[1,0],[3,2],[1,0],[1,0],[1,0],[3,2],[3,2]]
          }
        },
        "order": {"field": "d", "type": "quantitative", "sort": "descending"}
      }
    },
    {
      "data": {"values": [{"v": 1526.31, "v2": 1536.54, "d": -155.4, "d2": -179.7}]},
      "mark": {"type": "rect", "fill": "white", "stroke": null},
      "encoding": {
        "x2": {"field": "v2"},
        "y2": {"field": "d2"}
      }
    },
    {
      "data": {"values": [
        {"v": 1526.84, "d": -165.6, "t": "30-45m oscillations"},
        {"v": 1526.84, "d": -175.3, "t": "of thermocline"}
      ]},
      "mark": {"type": "text", "align": "left", "baseline": "alphabetic", "font": "Liberation Sans", "fontSize": 42, "fontWeight": "bold", "color": "black"},
      "encoding": {"text": {"field": "t"}}
    },
    {
      "data": {"values": [{"v": 1511.34, "d": -33.85, "t": "Profiles 95-114"}]},
      "mark": {"type": "text", "align": "left", "baseline": "alphabetic", "font": "Liberation Sans", "fontSize": 25, "color": "black"},
      "encoding": {"text": {"field": "t"}}
    },
    {
      "data": {"values": [
        {"v": 1531.99, "d": -60.4, "d2": -72.2},
        {"v": 1532.09, "d": -126.0, "d2": -134.2}
      ]},
      "mark": {"type": "rule", "color": "#333399", "strokeWidth": 8, "strokeCap": "butt"},
      "encoding": {"y2": {"field": "d2"}}
    },
    {
      "data": {"values": [{"v": 1531.99, "d": -73.75}]},
      "mark": {"type": "point", "shape": "M-1,-1L1,-1L0,1Z", "filled": true, "color": "#333399", "opacity": 1, "size": 529, "strokeWidth": 0}
    },
    {
      "data": {"values": [{"v": 1532.09, "d": -124.3}]},
      "mark": {"type": "point", "shape": "M-1,1L1,1L0,-1Z", "filled": true, "color": "#333399", "opacity": 1, "size": 529, "strokeWidth": 0}
    }
  ]
}
